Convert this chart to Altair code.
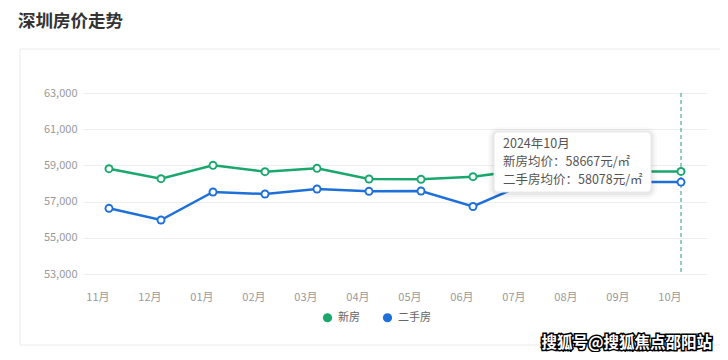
import altair as alt
import pandas as pd

months = ["11月", "12月", "01月", "02月", "03月", "04月", "05月", "06月", "07月", "08月", "09月", "10月"]
new_home = [58818, 58265, 59004, 58652, 58838, 58249, 58232, 58376, 58750, 58700, 58660, 58667]
second_home = [56630, 55983, 57530, 57420, 57696, 57569, 57586, 56730, 57980, 58050, 58080, 58078]
series = ["新房", "二手房"]
colors = ["#1aa76e", "#1e70d8"]
y_ticks = [53000, 55000, 57000, 59000, 61000, 63000]
title_text = "深圳房价走势"
tip_title = "2024年10月"
tip_month = "10月"
watermark = "搜狐号@搜狐焦点邵阳站"

FONT = "Noto Sans CJK SC"

rows = []
for m, a, b in zip(months, new_home, second_home):
    rows.append({"month": m, "series": series[0], "price": a})
    rows.append({"month": m, "series": series[1], "price": b})
df = pd.DataFrame(rows)
dummy = pd.DataFrame({"a": [0]})

idx = months.index(tip_month)
tip_lines = [
    tip_title,
    f"新房均价：{new_home[idx]}元/㎡",
    f"二手房均价：{second_home[idx]}元/㎡",
]

x_enc = alt.X("month:N", sort=months, scale=alt.Scale(type="point", padding=0.5),
              axis=alt.Axis(title=None, labelAngle=0, domain=False, ticks=False, grid=False,
                            labelPadding=23, labelColor="#999999", labelFontSize=11))
y_enc = alt.Y("price:Q", scale=alt.Scale(domain=[53000, 63000], nice=False, zero=False),
              axis=alt.Axis(title=None, values=y_ticks, format=",d", domain=False, ticks=False,
                            grid=True, gridColor="#eeeeee", labelPadding=6,
                            labelColor="#999999", labelFontSize=11))

color_scale = alt.Scale(domain=series, range=colors)

base = alt.Chart(df).encode(x=x_enc, y=y_enc)

frame = alt.Chart(dummy).mark_rect(fillOpacity=0, stroke="#ebebeb", strokeWidth=1).encode(
    x=alt.value(-63), x2=alt.value(700), y=alt.value(-44), y2=alt.value(252))

title = alt.Chart(dummy).mark_text(text=title_text, align="left", baseline="middle", fontSize=17.5,
                                   fontWeight="bold", color="#333333").encode(
    x=alt.value(-65), y=alt.value(-71))

rule = alt.Chart(pd.DataFrame({"month": [tip_month]})).mark_rule(
    color="#2f9c86", strokeDash=[4, 3], strokeWidth=1).encode(
    x=alt.X("month:N", sort=months), y=alt.value(0), y2=alt.value(181))

line_layers = [
    base.transform_filter(alt.datum.series == s).mark_line(strokeWidth=2.5, color=c)
    for s, c in zip(series, colors)
]

outer = base.mark_circle(size=80, opacity=1).encode(
    color=alt.Color("series:N", scale=color_scale,
                    legend=alt.Legend(title=None, orient="none", legendX=239, legendY=219,
                                      direction="horizontal", symbolType="circle", symbolSize=85,
                                      symbolStrokeWidth=0, symbolOpacity=1, labelFontSize=11,
                                      labelColor="#666666", columnPadding=22, labelOffset=5)))
inner = base.mark_circle(size=26, color="white", opacity=1)

# tooltip box with soft shadow
shadows = []
for d, op in [(6, 0.02), (4, 0.03), (2, 0.04)]:
    shadows.append(alt.Chart(dummy).mark_rect(fill="black", opacity=op, cornerRadius=4 + d).encode(
        x=alt.value(411 - d), x2=alt.value(568 + d), y=alt.value(39 - d + 1), y2=alt.value(99 + d + 1)))
tip_box = alt.Chart(dummy).mark_rect(fill="white", stroke="#e8e8e8", strokeWidth=1, cornerRadius=4).encode(
    x=alt.value(411), x2=alt.value(568), y=alt.value(39), y2=alt.value(99))
tip_texts = []
for i, t in enumerate(tip_lines):
    tip_texts.append(alt.Chart(dummy).mark_text(text=t, align="left", baseline="middle",
                                                fontSize=12.5, color="#555555").encode(
        x=alt.value(420), y=alt.value(51 + 18 * i)))

wm_stroke = alt.Chart(dummy).mark_text(text=watermark, align="right", baseline="middle", fontSize=15.5,
                                       fontWeight="bold", color="black", stroke="black",
                                       strokeWidth=3).encode(x=alt.value(629), y=alt.value(250))
wm_fill = alt.Chart(dummy).mark_text(text=watermark, align="right", baseline="middle", fontSize=15.5,
                                     fontWeight="bold", color="white").encode(
    x=alt.value(629), y=alt.value(250))

chart = alt.layer(frame, title, rule, *line_layers, outer, inner, *shadows, tip_box, *tip_texts,
                  wm_stroke, wm_fill).properties(
    width=624, height=181,
    padding={"left": 75, "top": 85, "right": 13, "bottom": 78},
    autosize=alt.AutoSizeParams(type="none"),
).configure(font=FONT).configure_view(stroke=None)

chart.save("out.html", embed_options={"renderer": "svg", "actions": False})
